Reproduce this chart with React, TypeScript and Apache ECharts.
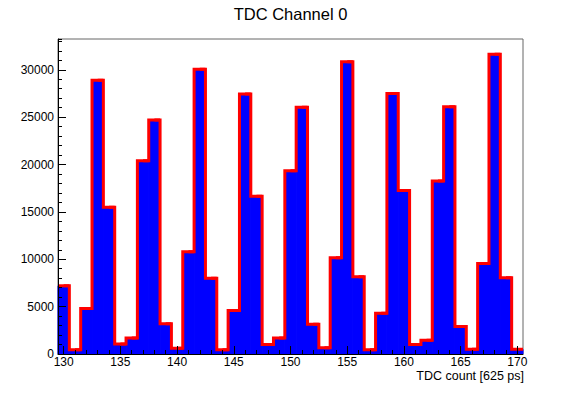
import React, { useEffect, useRef } from "react";
import * as echarts from "echarts";

const categories = [
  "130", "131", "132", "133", "134", "135", "136", "137", "138", "139",
  "140", "141", "142", "143", "144", "145", "146", "147", "148", "149",
  "150", "151", "152", "153", "154", "155", "156", "157", "158", "159",
  "160", "161", "162", "163", "164", "165", "166", "167", "168", "169",
  "170",
];

const counts = [
  7200, 450, 4800, 28900, 15500, 1050, 1700, 20400, 24700, 3200,
  600, 10800, 30050, 8000, 450, 4600, 27450, 16650, 1000, 1700,
  19350, 26050, 3150, 650, 10150, 30850, 8150, 450, 4300, 27500,
  17250, 1000, 1450, 18250, 26100, 2900, 500, 9550, 31650, 8050,
  500,
];

const titleText = "TDC Channel 0";
const xAxisTitle = "TDC count [625 ps]";
const yMax = 33250;

const FONT = "'Liberation Sans', Arial, Helvetica, sans-serif";

const isMajor = (_i: number, v: string) => Number(v) % 5 === 0;

export default function App() {
  const ref = useRef<HTMLDivElement>(null);

  useEffect(() => {
    if (!ref.current) return;
    const chart = echarts.init(ref.current, null, { renderer: "svg" });

    const fillData = counts.map((v, i) => [i, v]);
    const lineData = counts.map((v, i) => [i, v, i > 0 ? counts[i - 1] : v]);

    chart.setOption({
      animation: false,
      backgroundColor: "#ffffff",
      title: {
        text: titleText,
        left: "center",
        top: 0,
        textStyle: { fontSize: 16.5, fontWeight: "normal", color: "#000", fontFamily: FONT },
      },
      grid: {
        left: 58,
        top: 39,
        width: 465,
        height: 315,
        show: true,
        borderColor: "#666",
        borderWidth: 1,
        backgroundColor: "transparent",
      },
      xAxis: [
        {
          type: "category",
          data: categories,
          position: "bottom",
          boundaryGap: true,
          z: 10,
          axisLine: { show: true, lineStyle: { color: "#000", width: 1 } },
          axisTick: { show: true, inside: true, length: 4, alignWithLabel: true, interval: 0, lineStyle: { color: "#000" } },
          axisLabel: { show: false },
          splitLine: { show: false },
        },
        {
          type: "category",
          data: categories,
          position: "bottom",
          boundaryGap: true,
          z: 10,
          axisLine: { show: false },
          axisTick: { show: true, inside: true, length: 8, alignWithLabel: true, interval: isMajor, lineStyle: { color: "#000" } },
          axisLabel: { show: true, interval: isMajor, margin: 2, fontSize: 12, color: "#000", fontFamily: FONT },
          splitLine: { show: false },
        },
      ],
      yAxis: [
        {
          type: "value",
          min: 0,
          max: yMax,
          interval: 1000,
          position: "left",
          z: 10,
          axisLine: { show: true, lineStyle: { color: "#000", width: 1 } },
          axisTick: { show: true, inside: true, length: 4, lineStyle: { color: "#000" } },
          axisLabel: { show: false },
          splitLine: { show: false },
        },
        {
          type: "value",
          min: 0,
          max: yMax,
          interval: 5000,
          position: "left",
          z: 10,
          axisLine: { show: false },
          axisTick: { show: true, inside: true, length: 8, lineStyle: { color: "#000" } },
          axisLabel: {
            show: true,
            showMaxLabel: false,
            margin: 4,
            fontSize: 12,
            color: "#000",
            fontFamily: FONT,
            formatter: (v: number) => String(v),
          },
          splitLine: { show: false },
        },
      ],
      graphic: [
        {
          type: "text",
          right: 57,
          top: 369,
          style: { text: xAxisTitle, font: `12.5px ${FONT}`, fill: "#000" },
        },
      ],
      series: [
        {
          type: "custom",
          xAxisIndex: 0,
          yAxisIndex: 0,
          data: fillData,
          encode: { x: 0, y: 1 },
          renderItem: (_params: any, api: any) => {
            const idx = api.value(0);
            const v = api.value(1);
            const top = api.coord([idx, v]);
            const base = api.coord([idx, 0]);
            const w = api.size([1, 0])[0];
            return {
              type: "rect",
              shape: { x: top[0] - w / 2, y: top[1], width: w, height: base[1] - top[1] },
              style: { fill: "#0000ff", stroke: "#0000ff", lineWidth: 1 },
            };
          },
          z: 2,
        },
        {
          type: "custom",
          xAxisIndex: 0,
          yAxisIndex: 0,
          data: lineData,
          encode: { x: 0, y: 1 },
          renderItem: (params: any, api: any) => {
            const idx = api.value(0);
            const v = api.value(1);
            const pv = api.value(2);
            const p = api.coord([idx, v]);
            const pp = api.coord([idx, pv]);
            const w = api.size([1, 0])[0];
            const left = p[0] - w / 2;
            const right = p[0] + w / 2;
            const pts =
              params.dataIndex === 0
                ? [[left, p[1]], [right, p[1]]]
                : [[left - w / 2, pp[1]], [left, pp[1]], [left, p[1]], [right, p[1]]];
            return {
              type: "polyline",
              shape: { points: pts },
              style: { stroke: "#ff0000", lineWidth: 3, fill: "none", lineJoin: "miter" },
            };
          },
          z: 3,
        },
      ],
    });

    return () => chart.dispose();
  }, []);

  return (
    <div
      ref={ref}
      style={{ position: "fixed", left: 0, top: 0, width: 581, height: 394, background: "#fff" }}
    />
  );
}
